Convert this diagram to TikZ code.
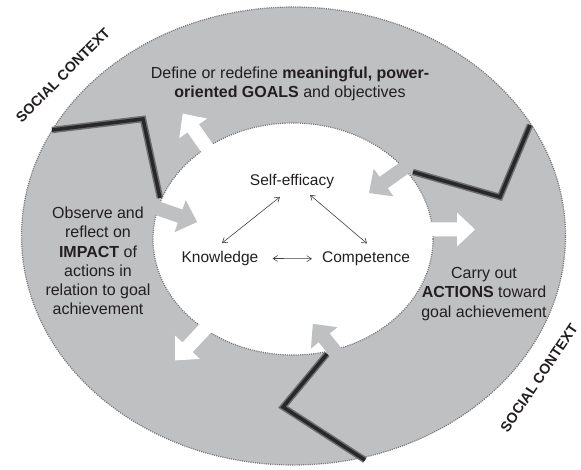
\documentclass[tikz,border=0pt]{standalone}
\usepackage{fontspec}
\setmainfont{Liberation Sans}
\usetikzlibrary{arrows.meta,calc}
\definecolor{ring}{RGB}{191,192,194}
\definecolor{rim}{RGB}{118,118,120}
\definecolor{ink}{RGB}{35,31,32}
\definecolor{zig}{RGB}{40,40,40}
\definecolor{zigblur}{RGB}{110,110,112}
% fat arrow: base x, base y, canvas angle, length, fill colour
\newcommand\fatarrow[5]{\fill[#5,shift={(#1,#2)},rotate=#3] (0,-7) -- ({#4-18},-7) -- ({#4-18},-17) -- (#4,0) -- ({#4-18},17) -- ({#4-18},7) -- (0,7) -- cycle;}
\begin{document}
\begin{tikzpicture}[x=1pt,y=-1pt,
  rimline/.style={draw=rim, line width=1.2pt, dash pattern=on 1.1pt off 1.1pt},
  ringtext/.style={font=\fontsize{16}{19.3}\selectfont, text=ink, align=center, inner sep=0pt},
  coretext/.style={font=\fontsize{15.5}{18}\selectfont, text=ink, inner sep=0pt, anchor=base},
  ctxtext/.style={font=\fontsize{14.3}{16}\selectfont\bfseries, text=ink, inner sep=0pt},
  link/.style={draw=ink!85, line width=0.6pt, {Straight Barb[length=4.5pt,width=6pt]}-{Straight Barb[length=4.5pt,width=6pt]}},
  zigunder/.style={draw=zigblur, line width=6.5pt, line join=miter},
  zigover/.style={draw=zig, line width=3.5pt, line join=miter}]
\useasboundingbox (0,0) rectangle (581,470);
% ring and core
\fill[ring] (293.5,236) ellipse [x radius=272pt, y radius=229pt];
\draw[rimline] (293.5,236) ellipse [x radius=272pt, y radius=229pt];
\fill[white] (293,239) ellipse [x radius=140pt, y radius=116pt];
\draw[rimline] (293,239) ellipse [x radius=140pt, y radius=116pt];
% white arrows outward
\fatarrow{211.6}{154.5}{125.2}{50}{white}
\fatarrow{425}{229.5}{0}{50}{white}
\fatarrow{210.8}{322.5}{226.8}{52}{white}
% gray arrows inward
\fatarrow{148}{205}{-19.1}{52}{ring}
\fatarrow{410.5}{163.4}{215.5}{51}{ring}
\fatarrow{338}{355}{128.9}{40}{ring}
% zigzag separators
\draw[zigunder] (52,130) -- (143,119) -- (160,198);
\draw[zigover] (52,130) -- (143,119) -- (160,198);
\draw[zigunder] (413,172) -- (500,197) -- (530,125);
\draw[zigover] (413,172) -- (500,197) -- (530,125);
\draw[zigunder] (327,354) -- (283,407) -- (365,460);
\draw[zigover] (327,354) -- (283,407) -- (365,460);
% texts
\node[ringtext] (goals) at (290,84) {Define or redefine \textbf{meaningful, power-}\\\textbf{oriented GOALS} and objectives};
\node[ringtext] (impact) at (98,261) {Observe and\\reflect on\\\textbf{IMPACT} of\\actions in\\relation to goal\\achievement};
\node[ringtext] (actions) at (484,294) {Carry out\\\textbf{ACTIONS} toward\\goal achievement};
\node[coretext] (self) at (292,185.5) {Self-efficacy};
\node[coretext] (know) at (220,262.5) {Knowledge};
\node[coretext] (comp) at (366,262.5) {Competence};
\node[ctxtext, rotate=45] (ctx1) at (63,75) {SOCIAL CONTEXT};
\node[ctxtext, rotate=56] (ctx2) at (539,378) {SOCIAL CONTEXT};
% links between the core abilities
\draw[link] ($(know.north)+(2,-8)$) -- ($(self.south)+(-12,8)$);
\draw[link] ($(self.south)+(18,6)$) -- ($(comp.north)+(1,-8)$);
\draw[link] ($(know.east)+(14,0)$) -- ($(comp.west)+(-10,0)$);
\end{tikzpicture}
\end{document}
